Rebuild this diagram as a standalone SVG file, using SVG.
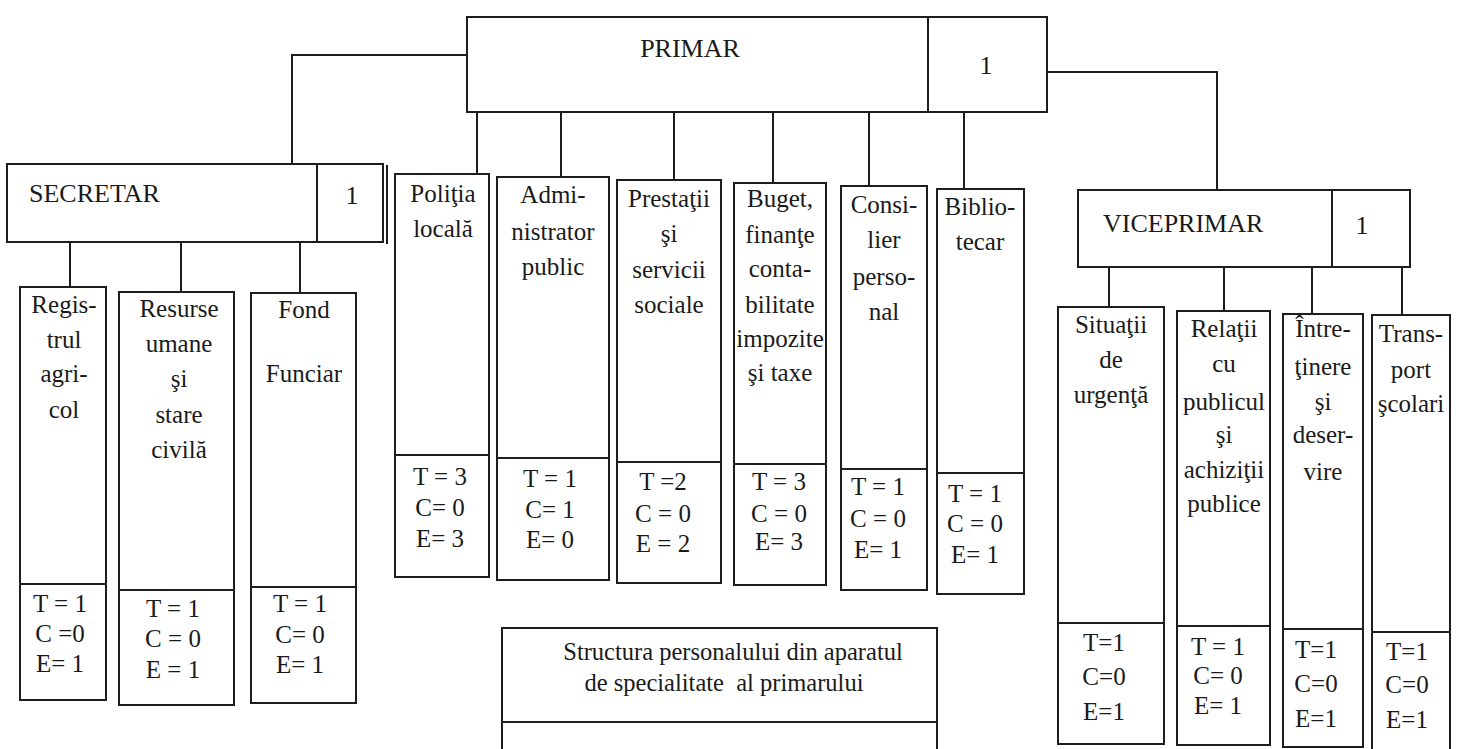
<svg xmlns="http://www.w3.org/2000/svg" width="1464" height="749" viewBox="0 0 1464 749">
<style>
.b{fill:#fff;stroke:#1e1e1e;stroke-width:2}
.l{stroke:#1e1e1e;stroke-width:2;fill:none}
text{font-family:"Liberation Serif","Times New Roman",serif;fill:#1a1a1a;font-size:25px}
.c{text-anchor:middle}
.h{font-size:26px}
.lg{font-size:24.5px;white-space:pre}
</style>
<rect width="1464" height="749" fill="#fff"/>
<g id="connectors" class="l">
<polyline points="467,55 292,55 292,164"/>
<polyline points="1047,72 1217,72 1217,190"/>
<line x1="477" y1="112" x2="477" y2="174"/>
<line x1="561" y1="112" x2="561" y2="177"/>
<line x1="674" y1="112" x2="674" y2="180"/>
<line x1="773" y1="112" x2="773" y2="183"/>
<line x1="869" y1="112" x2="869" y2="186"/>
<line x1="964" y1="112" x2="964" y2="189"/>
<line x1="70" y1="242" x2="70" y2="287"/>
<line x1="181" y1="242" x2="181" y2="292"/>
<line x1="300" y1="242" x2="300" y2="293"/>
<line x1="1109" y1="267" x2="1109" y2="307"/>
<line x1="1224" y1="267" x2="1224" y2="311"/>
<line x1="1312" y1="267" x2="1312" y2="314"/>
<line x1="1402" y1="267" x2="1402" y2="315"/>
</g>
<g id="primar">
<rect class="b" x="467" y="17" width="580" height="95"/>
<line class="l" x1="928" y1="17" x2="928" y2="112"/>
<text class="c h" x="690" y="57">PRIMAR</text>
<text class="c h" x="986" y="74">1</text>
</g>
<g id="secretar">
<rect class="b" x="7" y="164" width="376" height="78"/>
<line class="l" x1="317" y1="164" x2="317" y2="242"/>
<line class="l" x1="387" y1="165" x2="387" y2="244"/>
<text class="h" x="29" y="202">SECRETAR</text>
<text class="c h" x="352" y="204">1</text>
</g>
<g id="viceprimar">
<rect class="b" x="1078" y="190" width="332" height="77"/>
<line class="l" x1="1332" y1="190" x2="1332" y2="267"/>
<text class="h" x="1103" y="232">VICEPRIMAR</text>
<text class="c h" x="1362" y="234">1</text>
</g>
<g id="registrul">
<rect class="b" x="20" y="287" width="86" height="413"/>
<line class="l" x1="20" y1="584" x2="106" y2="584"/>
<text class="c" x="64" y="313">Regis-</text><text class="c" x="64" y="348">trul</text><text class="c" x="64" y="382">agri-</text><text class="c" x="64" y="418">col</text>
<text class="c" x="60" y="612">T = 1</text><text class="c" x="60" y="642">C =0</text><text class="c" x="60" y="672">E= 1</text>
</g>
<g id="resurse">
<rect class="b" x="119" y="292" width="115" height="413"/>
<line class="l" x1="119" y1="590" x2="234" y2="590"/>
<text class="c" x="179" y="317">Resurse</text><text class="c" x="179" y="352">umane</text><text class="c" x="179" y="387">şi</text><text class="c" x="179" y="423">stare</text><text class="c" x="179" y="458">civilă</text>
<text class="c" x="173" y="617">T = 1</text><text class="c" x="173" y="647">C = 0</text><text class="c" x="173" y="678">E = 1</text>
</g>
<g id="fond">
<rect class="b" x="251" y="293" width="105" height="410"/>
<line class="l" x1="251" y1="587" x2="356" y2="587"/>
<text class="c" x="304" y="318">Fond</text><text class="c" x="304" y="382">Funciar</text>
<text class="c" x="300" y="612">T = 1</text><text class="c" x="300" y="643">C= 0</text><text class="c" x="300" y="673">E= 1</text>
</g>
<g id="politia">
<rect class="b" x="395" y="174" width="94" height="403"/>
<line class="l" x1="395" y1="455" x2="489" y2="455"/>
<text class="c" x="443" y="202">Poliţia</text><text class="c" x="443" y="237">locală</text>
<text class="c" x="440" y="485">T = 3</text><text class="c" x="440" y="516">C= 0</text><text class="c" x="440" y="547">E= 3</text>
</g>
<g id="administrator">
<rect class="b" x="497" y="177" width="112" height="403"/>
<line class="l" x1="497" y1="458" x2="609" y2="458"/>
<text class="c" x="553" y="203">Admi-</text><text class="c" x="553" y="240">nistrator</text><text class="c" x="553" y="275">public</text>
<text class="c" x="550" y="487">T = 1</text><text class="c" x="550" y="518">C= 1</text><text class="c" x="550" y="548">E= 0</text>
</g>
<g id="prestatii">
<rect class="b" x="617" y="180" width="104" height="403"/>
<line class="l" x1="617" y1="462" x2="721" y2="462"/>
<text class="c" x="669" y="207">Prestaţii</text><text class="c" x="669" y="242">şi</text><text class="c" x="669" y="278">servicii</text><text class="c" x="669" y="313">sociale</text>
<text class="c" x="663" y="490">T =2</text><text class="c" x="663" y="522">C = 0</text><text class="c" x="663" y="552">E = 2</text>
</g>
<g id="buget">
<rect class="b" x="734" y="183" width="92" height="402"/>
<line class="l" x1="734" y1="464" x2="826" y2="464"/>
<text class="c" x="780" y="207">Buget,</text><text class="c" x="780" y="243">finanţe</text><text class="c" x="780" y="277">conta-</text><text class="c" x="780" y="313">bilitate</text><text class="c" x="780" y="347">impozite</text><text class="c" x="780" y="381">şi taxe</text>
<text class="c" x="779" y="490">T = 3</text><text class="c" x="779" y="522">C = 0</text><text class="c" x="779" y="550">E= 3</text>
</g>
<g id="consilier">
<rect class="b" x="841" y="186" width="86" height="404"/>
<line class="l" x1="841" y1="469" x2="927" y2="469"/>
<text class="c" x="884" y="213">Consi-</text><text class="c" x="884" y="248">lier</text><text class="c" x="884" y="285">perso-</text><text class="c" x="884" y="320">nal</text>
<text class="c" x="878" y="495">T = 1</text><text class="c" x="878" y="527">C = 0</text><text class="c" x="878" y="558">E= 1</text>
</g>
<g id="bibliotecar">
<rect class="b" x="937" y="189" width="87" height="405"/>
<line class="l" x1="937" y1="473" x2="1024" y2="473"/>
<text class="c" x="980" y="215">Biblio-</text><text class="c" x="980" y="250">tecar</text>
<text class="c" x="975" y="502">T = 1</text><text class="c" x="975" y="532">C = 0</text><text class="c" x="975" y="563">E= 1</text>
</g>
<g id="situatii">
<rect class="b" x="1058" y="307" width="106" height="437"/>
<line class="l" x1="1058" y1="623" x2="1164" y2="623"/>
<text class="c" x="1111" y="333">Situaţii</text><text class="c" x="1111" y="368">de</text><text class="c" x="1111" y="403">urgenţă</text>
<text class="c" x="1104" y="651">T=1</text><text class="c" x="1104" y="685">C=0</text><text class="c" x="1104" y="720">E=1</text>
</g>
<g id="relatii">
<rect class="b" x="1177" y="311" width="93" height="434"/>
<line class="l" x1="1177" y1="626" x2="1270" y2="626"/>
<text class="c" x="1224" y="337">Relaţii</text><text class="c" x="1224" y="372">cu</text><text class="c" x="1224" y="410">publicul</text><text class="c" x="1224" y="443">şi</text><text class="c" x="1224" y="478">achiziţii</text><text class="c" x="1224" y="512">publice</text>
<text class="c" x="1218" y="655">T = 1</text><text class="c" x="1218" y="684">C= 0</text><text class="c" x="1218" y="714">E= 1</text>
</g>
<g id="intretinere">
<rect class="b" x="1283" y="314" width="80" height="433"/>
<line class="l" x1="1283" y1="629" x2="1363" y2="629"/>
<text class="c" x="1323" y="337">Între-</text><text class="c" x="1323" y="375">ţinere</text><text class="c" x="1323" y="410">şi</text><text class="c" x="1323" y="443">deser-</text><text class="c" x="1323" y="480">vire</text>
<text class="c" x="1316" y="658">T=1</text><text class="c" x="1316" y="692">C=0</text><text class="c" x="1316" y="727">E=1</text>
</g>
<g id="transport">
<rect class="b" x="1372" y="315" width="78" height="440"/>
<line class="l" x1="1372" y1="632" x2="1450" y2="632"/>
<text class="c" x="1411" y="342">Trans-</text><text class="c" x="1411" y="378">port</text><text class="c" x="1411" y="412">şcolari</text>
<text class="c" x="1407" y="660">T=1</text><text class="c" x="1407" y="693">C=0</text><text class="c" x="1407" y="728">E=1</text>
</g>
<g id="legend">
<rect class="b" x="502" y="628" width="435" height="140"/>
<line class="l" x1="502" y1="722" x2="937" y2="722"/>
<text class="c lg" x="733" y="660">Structura personalului din aparatul</text>
<text class="c lg" x="724" y="691">de specialitate  al primarului</text>
</g>
</svg>
